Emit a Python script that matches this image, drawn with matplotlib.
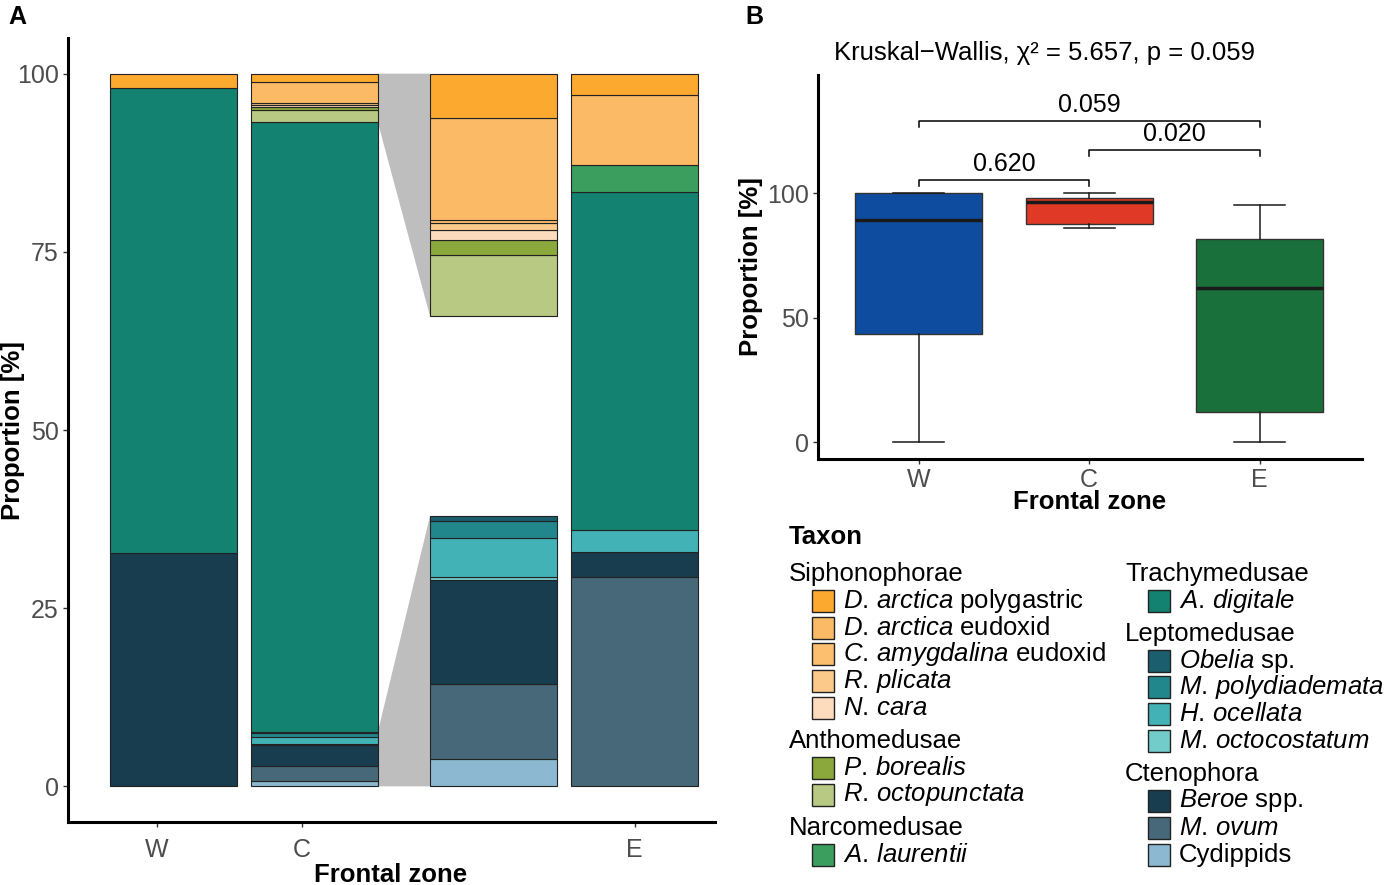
#!/usr/bin/env python3

# Proportion of gelatinous zooplankton taxa per frontal zone (A) and boxplot (B)
import numpy as np
import matplotlib
matplotlib.use("Agg")
import matplotlib.pyplot as plt
from matplotlib.patches import Rectangle

plt.rcParams['font.family'] = ['Liberation Sans', 'DejaVu Sans']
plt.rcParams['mathtext.fontset'] = 'custom'
plt.rcParams['mathtext.rm'] = 'Liberation Sans'
plt.rcParams['mathtext.it'] = 'Liberation Sans:italic'

# ---- data -----------------------------------------------------------------
taxaLabels = [r"$\mathit{D.\,arctica}$ polygastric", r"$\mathit{D.\,arctica}$ eudoxid",
              r"$\mathit{C.\,amygdalina}$ eudoxid", r"$\mathit{R.\,plicata}$",
              r"$\mathit{N.\,cara}$", r"$\mathit{P.\,borealis}$",
              r"$\mathit{R.\,octopunctata}$", r"$\mathit{A.\,laurentii}$",
              r"$\mathit{A.\,digitale}$", r"$\mathit{Obelia}$ sp.",
              r"$\mathit{M.\,polydiademata}$", r"$\mathit{H.\,ocellata}$",
              r"$\mathit{M.\,octocostatum}$", r"$\mathit{Beroe}$ spp.",
              r"$\mathit{M.\,ovum}$", "Cydippids"]
taxaColors = ["#FBA92F", "#FBBA66", "#FCBF6F", "#FDC98B", "#FDDCBD", "#8AA83B", "#B7C982",
              "#3B9E5F", "#138270", "#1B5E6E", "#21878C", "#43B2B7", "#72CCCA", "#173D4F",
              "#476879", "#8CB9D1"]
groupNames = ["Siphonophorae", "Anthomedusae", "Narcomedusae",
              "Trachymedusae", "Leptomedusae", "Ctenophora"]
groupSizes = [5, 2, 1, 1, 4, 3]

zones = ["W", "C", "E"]
propW = [2.0, 0, 0, 0, 0, 0, 0, 0, 65.3, 0, 0, 0, 0, 32.7, 0, 0]
propC = [1.24, 2.88, 0.07, 0.19, 0.30, 0.42, 1.70, 0, 85.62, 0.14, 0.46, 1.10, 0.10, 2.92, 2.08, 0.78]
propE = [3.0, 9.8, 0, 0, 0, 0, 0, 3.75, 47.55, 0, 0, 3.0, 0, 3.5, 29.4, 0]
zoomFactor = 5
nTop = 7      # taxa shown in the upper part of the magnified column
nBottom = 7   # taxa shown in the lower part

# boxplot statistics (proportion of dominant group, %)
boxWhiskLo = [0, 86.0, 0]
boxQ1 = [43.4, 87.6, 12.0]
boxMed = [89.2, 96.4, 61.8]
boxQ3 = [100, 98.0, 81.5]
boxWhiskHi = [100, 100, 95.2]
boxColors = ["#0E4C9F", "#E03A27", "#19703A"]
pairs = [(1, 2), (2, 3), (1, 3)]
pairP = ["0.620", "0.020", "0.059"]
pairY = [105.2, 117.3, 128.9]

W, H = 1386, 885
fig = plt.figure(figsize=(W / 100, H / 100), dpi=100)


def px(x, y):
    return x / W, 1 - y / H


def stackedBar(ax, xpos, values, width, scale=1.0, base=0.0):
    bottom = base
    for v, c in zip(values[::-1], taxaColors[::-1]):
        if v <= 0:
            continue
        ax.bar(xpos, v * scale, width, bottom=bottom, color=c,
               edgecolor="#222222", linewidth=0.8)
        bottom += v * scale
    return bottom


# ---- panel A --------------------------------------------------------------
axA = fig.add_axes([68 / W, 1 - 822 / H, (715 - 68) / W, (822 - 38) / H])
barPos = [1, 2, 3.27, 4.27]
barW = 0.9
stackedBar(axA, barPos[0], propW, barW)
stackedBar(axA, barPos[1], propC, barW)
stackedBar(axA, barPos[3], propE, barW)

# magnified column: lower taxa and upper taxa of C, each scaled
lowC = propC[-nBottom:]
topC = propC[:nTop]
lowTop = stackedBar(axA, barPos[2], [0] * 9 + lowC, barW, zoomFactor)
upBase = 100 - sum(topC) * zoomFactor
stackedBar(axA, barPos[2], topC + [0] * 9, barW, zoomFactor, upBase)

cRight = barPos[1] + barW / 2
zLeft = barPos[2] - barW / 2
axA.fill([cRight, zLeft, zLeft, cRight], [100, 100, upBase, 100 - sum(topC)],
         color="#BEBEBF", lw=0, zorder=0)
axA.fill([cRight, zLeft, zLeft, cRight], [0, 0, lowTop, sum(lowC)],
         color="#BEBEBF", lw=0, zorder=0)

axA.set_xlim(0.255, 4.84)
axA.set_ylim(-5, 105)
axA.set_yticks([0, 25, 50, 75, 100])
axA.set_xticks([0.887, 1.915, 4.27])
axA.set_xticklabels(zones)
fig.text(*px(391, 875), "Frontal zone", fontsize=18.5, fontweight="bold",
         ha="center", va="center")
fig.text(*px(13, 430), "Proportion [%]", fontsize=18.5, fontweight="bold",
         ha="center", va="center", rotation=90)

# ---- panel B --------------------------------------------------------------
axB = fig.add_axes([818 / W, 1 - 459 / H, (1362 - 818) / W, (459 - 75) / H])
stats = []
for i in range(3):
    stats.append(dict(whislo=boxWhiskLo[i], q1=boxQ1[i], med=boxMed[i],
                      q3=boxQ3[i], whishi=boxWhiskHi[i], fliers=[]))
bp = axB.bxp(stats, positions=[1, 2, 3], widths=0.745, patch_artist=True,
             showfliers=False,
             boxprops=dict(edgecolor="#333333", linewidth=1.0),
             medianprops=dict(color="#1a1a1a", linewidth=2.5),
             whiskerprops=dict(color="#1a1a1a", linewidth=1.1),
             capprops=dict(color="#1a1a1a", linewidth=1.1), capwidths=0.3)
for patch, c in zip(bp['boxes'], boxColors):
    patch.set_facecolor(c)

for (a, b), lab, yb in zip(pairs, pairP, pairY):
    axB.plot([a, a, b, b], [yb - 2.4, yb, yb, yb - 2.4], color="black", lw=1.1)
    axB.text((a + b) / 2, yb + 1.5, lab, ha="center", va="bottom", fontsize=18)

axB.set_xlim(0.41, 3.6)
axB.set_ylim(-6.8, 147.4)
axB.set_yticks([0, 50, 100])
axB.set_xticks([1, 2, 3])
axB.set_xticklabels(zones)
fig.text(*px(1090, 502), "Frontal zone", fontsize=18.5, fontweight="bold",
         ha="center", va="center")
fig.text(*px(751, 267), "Proportion [%]", fontsize=18.5, fontweight="bold",
         ha="center", va="center", rotation=90)
fig.text(*px(1045, 53), "Kruskal\u2212Wallis, \u03c7\u00b2 = 5.657, p = 0.059",
         fontsize=18.5, ha="center", va="center")

for ax in (axA, axB):
    for s in ("top", "right"):
        ax.spines[s].set_visible(False)
    for s in ("left", "bottom"):
        ax.spines[s].set_linewidth(2.2)
    ax.tick_params(labelsize=18, colors="#333333", labelcolor="#4D4D4D",
                   length=3.5, width=1.0, pad=3)
axA.tick_params(axis="x", pad=8)

# panel letters
fig.text(*px(8, 17), "A", fontsize=18, fontweight="bold", va="center")
fig.text(*px(745, 17), "B", fontsize=18, fontweight="bold", va="center")

# ---- legend ---------------------------------------------------------------
fig.text(*px(789, 537), "Taxon", fontsize=18.5, fontweight="bold", va="center")
rowH = 26.8
gapH = 6.3
colX = [789, 1125]
colStartY = [574, 574]
k = 0
for g, (gname, gsize) in enumerate(zip(groupNames, groupSizes)):
    col = 0 if g < 3 else 1
    if g == 3:
        y = colStartY[1]
    elif g == 0:
        y = colStartY[0]
    x0 = colX[col]
    fig.text(*px(x0, y), gname, fontsize=18.5, va="center")
    y += rowH
    for j in range(gsize):
        rx, ry = px(x0 + 23, y + 11)
        fig.add_artist(Rectangle((rx, ry), 22 / W, 22 / H, transform=fig.transFigure,
                                 facecolor=taxaColors[k], edgecolor="#222222", lw=1.0))
        fig.text(*px(x0 + 54, y), taxaLabels[k], fontsize=18.5, va="center")
        y += rowH
        k += 1
    y += gapH

fig.savefig("out.png", dpi=100)
